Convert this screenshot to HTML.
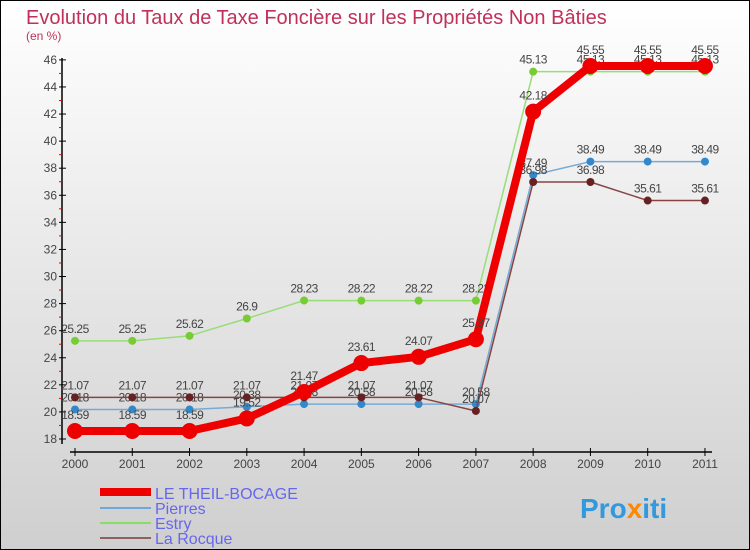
<!DOCTYPE html>
<html><head><meta charset="utf-8"><style>
body{margin:0}
svg{display:block;font-family:"Liberation Sans",sans-serif}
</style></head><body>
<svg width="750" height="550" viewBox="0 0 750 550">
<defs><linearGradient id="bg" x1="0" y1="0" x2="0" y2="1"><stop offset="0" stop-color="#ffffff"/><stop offset="1" stop-color="#cfcfcf"/></linearGradient></defs>
<rect x="0.5" y="0.5" width="749" height="549" fill="url(#bg)" stroke="#000"/>
<text x="26" y="24" font-size="20" fill="#c0305a">Evolution du Taux de Taxe Foncière sur les Propriétés Non Bâties</text>
<text x="26" y="40" font-size="12" fill="#c0305a">(en %)</text>
<g id="axes"></g>
<g id="series"></g>
<g id="legend">
<line x1="100" y1="492" x2="151" y2="492" stroke="#e00" stroke-width="8"/><text x="155" y="499" font-size="16" fill="#6666ee">LE THEIL-BOCAGE</text>
<line x1="100" y1="508" x2="151" y2="508" stroke="#6ea8d8" stroke-width="2"/><text x="155" y="514" font-size="16" fill="#6666ee">Pierres</text>
<line x1="100" y1="523" x2="151" y2="523" stroke="#88dd66" stroke-width="2"/><text x="155" y="529" font-size="16" fill="#6666ee">Estry</text>
<line x1="100" y1="538" x2="151" y2="538" stroke="#906060" stroke-width="2"/><text x="155" y="544" font-size="16" fill="#6666ee">La Rocque</text>
</g>
<text x="580" y="518" font-size="28" font-weight="bold" fill="#3399dd">Pro<tspan fill="#ff8800">x</tspan>iti</text>
</svg>
<script>
const years=["2000","2001","2002","2003","2004","2005","2006","2007","2008","2009","2010","2011"];
const yTicks=[18,20,22,24,26,28,30,32,34,36,38,40,42,44,46];
const theil=[18.59,18.59,18.59,19.52,21.47,23.61,24.07,25.37,42.18,45.55,45.55,45.55];
const pierres=[20.18,20.18,20.18,20.38,20.58,20.58,20.58,20.58,37.49,38.49,38.49,38.49];
const estry=[25.25,25.25,25.62,26.9,28.23,28.22,28.22,28.22,45.13,45.13,45.13,45.13];
const rocque=[21.07,21.07,21.07,21.07,21.07,21.07,21.07,20.07,36.98,36.98,35.61,35.61];
const NS="http://www.w3.org/2000/svg";
const X=i=>75+i*57.27, Y=v=>439-(v-18)*13.54;
function mk(t,a,p){const e=document.createElementNS(NS,t);for(const k in a)e.setAttribute(k,a[k]);p.appendChild(e);return e;}
const ax=document.getElementById('axes');
mk('line',{x1:62,y1:58,x2:62,y2:444,stroke:'#000','stroke-width':1.5},ax);
mk('line',{x1:70,y1:452,x2:712,y2:452,stroke:'#000','stroke-width':1.5},ax);
yTicks.forEach(v=>{
 const t=mk('line',{x1:59,y1:Y(v),x2:66,y2:Y(v),stroke:'#000'},ax);
 
 mk('line',{x1:59,y1:Y(v+1),x2:62,y2:Y(v+1),stroke:'#e00'},ax).setAttribute('opacity',v<46?1:0);
 const l=mk('text',{x:57,y:Y(v)+4,'font-size':12,fill:'#444','text-anchor':'end'},ax);l.textContent=v;
 
});
years.forEach((y,i)=>{
 mk('line',{x1:X(i),y1:448,x2:X(i),y2:456,stroke:'#000'},ax);
 const l=mk('text',{x:X(i),y:468,'font-size':12,fill:'#444','text-anchor':'middle'},ax);l.textContent=y;
 
});
const sg=document.getElementById('series');
function series(d,name,col,w,r,mcol,dy){
 const g=mk('g',{},sg);
 mk('polyline',{points:d.map((v,i)=>X(i)+','+Y(v)).join(' '),fill:'none',stroke:col,'stroke-width':w,'stroke-linejoin':'round'},g);
 d.forEach((v,i)=>{
  const c=mk('circle',{cx:X(i),cy:Y(v),r:r,fill:mcol},g);
  
  const t=mk('text',{x:X(i),y:Y(v)-dy,'font-size':12,fill:'#444','text-anchor':'middle','letter-spacing':'-0.5'},g);
  t.textContent=String(v);
 });
}
series(estry,'estry','#99dd77',1.5,4,'#77cc33',8);
series(pierres,'pierres','#77aad6',1.5,4,'#3388cc',8);
series(rocque,'la-rocque','#884444',1.5,4,'#662222',8);
series(theil,'le-theil-bocage','#ee0000',8,8,'#ee0000',12);
</script>
</body></html>
